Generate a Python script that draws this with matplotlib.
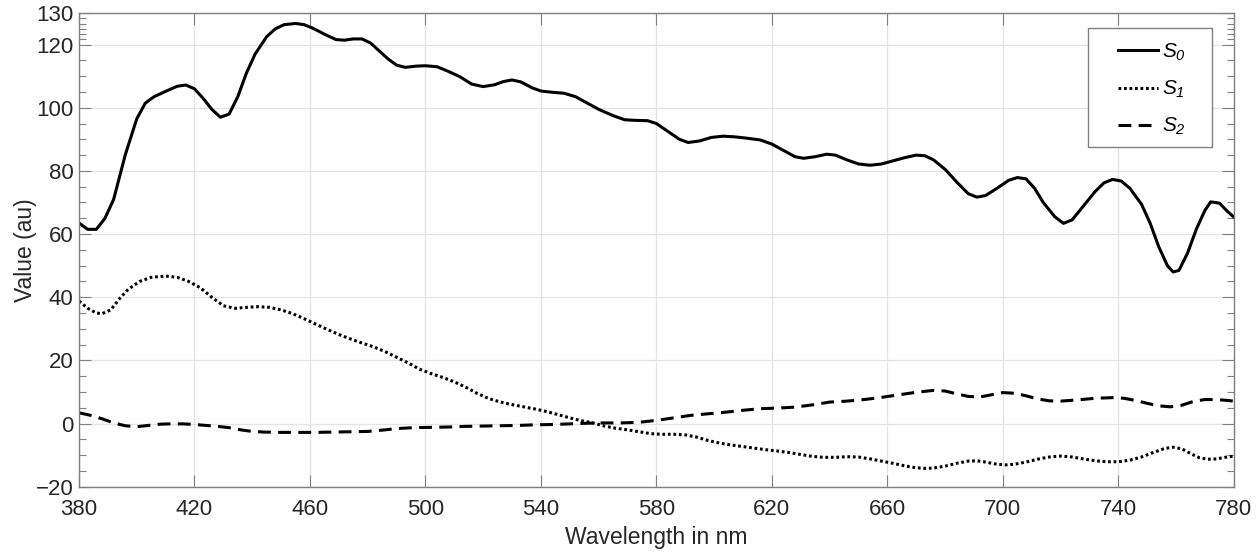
import matplotlib
matplotlib.use("Agg")
import matplotlib.pyplot as plt
from matplotlib.ticker import FixedLocator
from matplotlib.patches import Rectangle

plt.rcParams['font.family'] = ['Liberation Sans', 'DejaVu Sans']
plt.rcParams['mathtext.fontset'] = 'custom'
plt.rcParams['mathtext.it'] = 'Liberation Sans:italic'
plt.rcParams['mathtext.rm'] = 'Liberation Sans:italic'

# S0 (solid)
wl_s0 = [380, 383, 386, 389, 392, 396, 400, 403, 406, 410, 414, 417, 420, 423, 426, 429,
         432, 435, 438, 441, 445, 448, 451, 455, 458, 461, 465, 469, 472, 475, 478, 481,
         484, 487, 490, 493, 497, 500, 504, 508, 512, 516, 520, 524, 527, 530, 533, 537,
         540, 544, 548, 552, 556, 560, 565, 569, 573, 577, 580, 584, 588, 591, 595, 599,
         603, 607, 611, 616, 620, 624, 628, 631, 635, 639, 642, 646, 650, 654, 658, 662,
         666, 670, 673, 676, 680, 684, 688, 691, 694, 698, 702, 705, 708, 711, 714, 718,
         721, 724, 728, 732, 735, 738, 741, 744, 748, 751, 754, 757, 759, 761, 764, 767,
         770, 772, 775, 778, 780]
s0 = [63.5, 61.5, 61.5, 65, 71, 85, 96.5, 101.5, 103.5, 105.2, 106.8, 107.2, 106, 103, 99.5, 97,
      98, 103.5, 111, 117, 122.5, 125, 126.3, 126.7, 126.3, 125.2, 123.3, 121.6, 121.4, 121.8, 121.8, 120.5,
      118, 115.5, 113.5, 112.8, 113.2, 113.3, 113, 111.5, 109.8, 107.5, 106.7, 107.3, 108.3, 108.8, 108.2, 106.3,
      105.3, 104.9, 104.6, 103.5, 101.5, 99.5, 97.5, 96.2, 96, 95.9, 95, 92.5, 90, 89, 89.5, 90.6,
      91, 90.8, 90.4, 89.8, 88.5, 86.5, 84.5, 84, 84.5, 85.3, 85, 83.5, 82.2, 81.8, 82.2, 83.2,
      84.2, 85, 84.8, 83.5, 80.5, 76.5, 72.8, 71.7, 72.2, 74.5, 77, 77.9, 77.5, 74.5, 70, 65.5,
      63.4, 64.5, 69, 73.5, 76.2, 77.3, 76.8, 74.5, 69.5, 63.5, 56, 50, 48, 48.5, 54, 61.5,
      67.5, 70.2, 69.8, 67, 65.4]

# S1 (dotted)
wl_s1 = [380, 383, 386, 388, 391, 394, 397, 401, 405, 410, 414, 418, 422, 426, 430, 434,
         438, 442, 446, 450, 454, 458, 462, 466, 470, 474, 478, 482, 486, 490, 494, 498,
         502, 506, 510, 514, 518, 522, 526, 530, 534, 538, 542, 546, 550, 554, 558, 562,
         566, 570, 574, 578, 582, 586, 590, 594, 598, 602, 606, 610, 614, 618, 622, 626,
         630, 634, 638, 642, 646, 650, 654, 658, 662, 666, 670, 673, 676, 680, 684, 688,
         691, 694, 698, 701, 704, 708, 712, 716, 720, 724, 728, 732, 736, 740, 744, 748,
         752, 756, 759, 762, 765, 768, 771, 774, 777, 780]
s1 = [38.8, 36.5, 35, 34.8, 36, 39.5, 42.5, 45, 46.3, 46.7, 46.3, 45, 43, 40, 37.3, 36.5,
      36.8, 37, 36.8, 36, 34.8, 33.2, 31.5, 29.8, 28.2, 26.8, 25.5, 24.3, 22.8, 21, 19.2, 17.2,
      15.8, 14.6, 13.2, 11.5, 9.5, 7.9, 6.8, 6, 5.3, 4.6, 3.8, 2.8, 1.8, 0.9, 0.2, -0.8,
      -1.5, -2.0, -2.6, -3.2, -3.4, -3.4, -3.6, -4.3, -5.4, -6.2, -6.8, -7.3, -7.8, -8.3, -8.7, -9.2,
      -9.8, -10.4, -10.7, -10.7, -10.5, -10.6, -11.2, -11.9, -12.6, -13.4, -14, -14.2, -14.1, -13.5, -12.6, -11.9,
      -11.8, -12.2, -12.9, -13.1, -12.9, -12.2, -11.3, -10.6, -10.3, -10.6, -11.2, -11.8, -12.1, -12.1, -11.6, -10.6,
      -9.2, -7.9, -7.5, -8, -9.5, -10.8, -11.3, -11.2, -10.7, -10.3]

# S2 (dashed)
wl_s2 = [380, 384, 388, 392, 396, 400, 404, 408, 412, 416, 420, 424, 428, 432, 436, 440,
         444, 450, 456, 462, 468, 474, 480, 486, 490, 496, 502, 508, 514, 520, 526, 532,
         538, 544, 550, 556, 562, 568, 574, 580, 586, 592, 598, 604, 610, 616, 622, 628,
         634, 640, 646, 652, 658, 664, 670, 676, 680, 684, 688, 692, 696, 700, 704, 708,
         712, 716, 720, 726, 732, 738, 742, 746, 750, 754, 758, 762, 766, 770, 774, 778, 780]
s2 = [3.4, 2.6, 1.5, 0.2, -0.7, -1.0, -0.6, -0.2, -0.1, -0.1, -0.3, -0.6, -0.9, -1.3, -2.0, -2.5,
      -2.7, -2.8, -2.8, -2.8, -2.7, -2.6, -2.5, -2.0, -1.6, -1.3, -1.2, -1.1, -0.9, -0.8, -0.7, -0.6,
      -0.4, -0.3, -0.1, 0.1, 0.2, 0.2, 0.4, 1.0, 1.8, 2.6, 3.1, 3.6, 4.2, 4.7, 4.9, 5.2,
      5.9, 6.8, 7.1, 7.6, 8.3, 9.1, 9.9, 10.5, 10.3, 9.4, 8.6, 8.4, 9.1, 9.8, 9.6, 8.8,
      7.8, 7.2, 7.1, 7.5, 8.0, 8.2, 8.0, 7.3, 6.4, 5.6, 5.3, 5.8, 7.0, 7.6, 7.6, 7.3, 7.1]

x_ticks = [380, 420, 460, 500, 540, 580, 620, 660, 700, 740, 780]
y_ticks = [-20, 0, 20, 40, 60, 80, 100, 120, 130]
y_minor = [-15, -10, -5, 5, 10, 15, 25, 30, 35, 45, 50, 55, 65, 70, 75, 85, 90, 95,
           105, 110, 115, 121.67, 123.33, 125, 126.67, 128.33]

fig = plt.figure(figsize=(12.6, 5.52), dpi=100)
ax = fig.add_axes([0.0627, 0.1183, 0.9165, 0.8581])

ax.plot(wl_s0, s0, color='black', lw=2.2, linestyle='-', solid_joinstyle='round', label=r'$S_0$')
ax.plot(wl_s1, s1, color='black', lw=2.2, linestyle=(0, (0.9, 0.9)), label=r'$S_1$')
ax.plot(wl_s2, s2, color='black', lw=2.2, linestyle=(0, (4.2, 2.4)), label=r'$S_2$')

ax.set_xlim(380, 780)
ax.set_ylim(-20, 130)
ax.set_xticks(x_ticks)
ax.set_yticks(y_ticks)
ax.yaxis.set_minor_locator(FixedLocator(y_minor))
ax.grid(True, which='major', color='#e3e3e3', lw=0.9)
ax.set_axisbelow(True)

ax.tick_params(which='major', direction='in', length=8.5, width=0.8, color='#808080',
               top=True, right=True, labelsize=16, labelcolor='#262626', pad=4)
ax.tick_params(axis='x', which='major', pad=9)
ax.tick_params(which='minor', direction='in', length=5, width=0.8, color='#808080',
               left=True, right=True)
for sp in ax.spines.values():
    sp.set_color('#808080')
    sp.set_linewidth(1.0)

ax.set_xlabel('Wavelength in nm', fontsize=16.5, color='#262626', labelpad=4)
ax.set_ylabel('Value (au)', fontsize=16.5, color='#262626', labelpad=-1)

# legend box drawn separately (MATLAB-style wide frame)
box = Rectangle((0.8635, 0.7337), 0.0984, 0.2156, transform=fig.transFigure,
                facecolor='white', edgecolor='#808080', lw=1.0, zorder=4, clip_on=False)
ax.add_patch(box)
leg = ax.legend(loc='upper left', bbox_to_anchor=(0.8873, 0.9245), bbox_transform=fig.transFigure,
                borderaxespad=0, borderpad=0, frameon=False, fontsize=15,
                handlelength=1.92, handletextpad=0.2, labelspacing=0.76)
leg.set_zorder(5)

fig.savefig('out.png', dpi=100)
